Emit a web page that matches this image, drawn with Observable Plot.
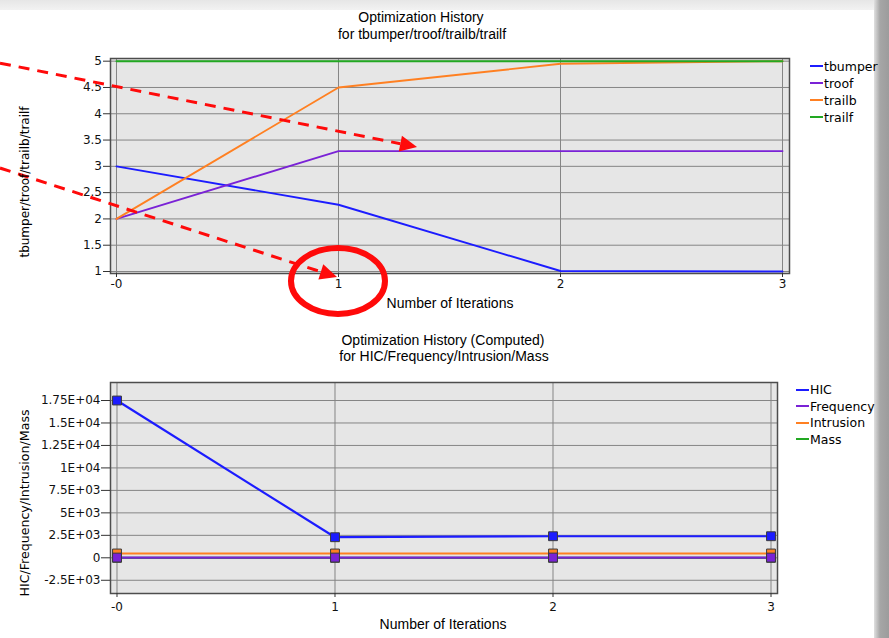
<!DOCTYPE html>
<html><head><meta charset="utf-8">
<script src="https://cdn.jsdelivr.net/npm/d3@7"></script>
<script src="https://cdn.jsdelivr.net/npm/@observablehq/plot@0.6"></script>
<style>
html,body{margin:0;padding:0;background:#fff;}
#page{position:relative;width:889px;height:638px;overflow:hidden;background:#fff;}
#page svg{position:absolute;left:0;}
.t{position:absolute;white-space:nowrap;font-family:"Liberation Sans",Arial,sans-serif;font-size:14px;color:#000;transform:translate(-50%,-50%);line-height:1;}
.yl{position:absolute;white-space:nowrap;font-family:"DejaVu Sans",sans-serif;font-size:12px;color:#000;transform:translate(-50%,-50%) rotate(-90deg);line-height:1;}
.leg{position:absolute;font-family:"DejaVu Sans",sans-serif;font-size:12.5px;color:#000;}
.leg .row{display:flex;align-items:center;}
.leg .sw{width:13px;height:2px;margin-right:1px;}
#topband{position:absolute;left:0;top:0;width:889px;height:10px;background:linear-gradient(#e6e6e6,#f2f2f2);}
#rightband{position:absolute;left:874px;top:0;width:15px;height:638px;background:linear-gradient(90deg,#e0e0e0,#a6a6a6 40%,#9c9c9c);}
</style></head><body><div id="page"></div>
<script>
// ---------- data ----------
const iterations = [0, 1, 2, 3];
const xTickLabels = ["-0", "1", "2", "3"];

const topSeries = ["tbumper", "troof", "trailb", "trailf"];
const topColors = ["#1c1cff", "#7a22d6", "#ff8022", "#22a822"];
const tbumper = [3.0, 2.27, 1.01, 1.0];
const troof = [2.0, 3.29, 3.29, 3.29];
const trailb = [2.0, 4.5, 4.95, 5.0];
const trailf = [5.0, 5.0, 5.0, 5.0];
const topValues = [tbumper, troof, trailb, trailf];
const topYTicks = [1, 1.5, 2, 2.5, 3, 3.5, 4, 4.5, 5];
const topYTickLabels = ["1", "1.5", "2", "2.5", "3", "3.5", "4", "4.5", "5"];

const botSeries = ["HIC", "Frequency", "Intrusion", "Mass"];
const botColors = ["#1c1cff", "#7a22d6", "#ff8022", "#22a822"];
const HIC = [17500, 2290, 2400, 2400];
const Frequency = [25, 25, 25, 25];
const Intrusion = [480, 480, 480, 480];
const Mass = [0, 0, 0, 0];
const botValues = [HIC, Frequency, Intrusion, Mass];
const botYTicks = [-2500, 0, 2500, 5000, 7500, 10000, 12500, 15000, 17500];
const botYTickLabels = ["-2.5E+03", "0", "2.5E+03", "5E+03", "7.5E+03", "1E+04", "1.25E+04", "1.5E+04", "1.75E+04"];

// red annotations (in data units of the upper chart)
const annotArrows = [
  {x1: -0.5225, y1: 4.954, x2: 1.356, y2: 3.357},
  {x1: -0.5225, y1: 2.958, x2: 0.9955, y2: 0.886}
];
const annotEllipses = [{x: 1.0, y: 0.81}];

// ---------- helpers ----------
const page = document.getElementById("page");
function addText(cls, txt, x, y) {
  const d = document.createElement("div");
  d.className = cls; d.textContent = txt;
  d.style.left = x + "px"; d.style.top = y + "px";
  page.appendChild(d);
}
function addLegend(names, colors, x, y, rowH) {
  const d = document.createElement("div");
  d.className = "leg"; d.style.left = x + "px"; d.style.top = y + "px";
  names.forEach((n, i) => {
    const r = document.createElement("div"); r.className = "row"; r.style.height = rowH + "px";
    const s = document.createElement("div"); s.className = "sw"; s.style.background = colors[i];
    const t = document.createElement("span"); t.textContent = n;
    r.appendChild(s); r.appendChild(t); d.appendChild(r);
  });
  page.appendChild(d);
}
function annotations(arrows, ellipses) {
  return (index, scales) => {
    const g = d3.create("svg:g");
    for (const a of arrows) {
      const x1 = scales.x(a.x1), y1 = scales.y(a.y1), x2 = scales.x(a.x2), y2 = scales.y(a.y2);
      const dx = x2 - x1, dy = y2 - y1, L = Math.hypot(dx, dy), ux = dx / L, uy = dy / L;
      const hl = 17, hw = 8;
      const bx = x2 - ux * hl, by = y2 - uy * hl;
      g.append("line").attr("x1", x1).attr("y1", y1).attr("x2", bx).attr("y2", by)
        .attr("stroke", "#ff0a0a").attr("stroke-width", 3).attr("stroke-dasharray", "11,8");
      g.append("path").attr("d", `M${x2},${y2}L${bx - uy * hw},${by + ux * hw}L${bx + uy * hw},${by - ux * hw}Z`)
        .attr("fill", "#ff0a0a");
    }
    for (const e of ellipses) {
      g.append("ellipse").attr("cx", scales.x(e.x)).attr("cy", scales.y(e.y))
        .attr("rx", 47).attr("ry", 33).attr("fill", "none").attr("stroke", "#ff0a0a").attr("stroke-width", 6);
    }
    return g.node();
  };
}
const style = {fontFamily: "DejaVu Sans", fontSize: "12px", color: "#111", background: "transparent", overflow: "visible"};
const xFmt = d => xTickLabels[iterations.indexOf(d)];

// ---------- top chart ----------
const topChart = Plot.plot({
  width: 889, height: 320,
  marginLeft: 110, marginRight: 100, marginTop: 58, marginBottom: 47,
  style,
  x: {domain: [-0.027, 3.0315], label: null},
  y: {domain: [0.962, 5.051], label: null},
  marks: [
    Plot.frame({fill: "#e6e6e6", stroke: "none"}),
    Plot.ruleY(topYTicks, {stroke: "#858585", strokeWidth: 1}),
    Plot.ruleX(iterations, {stroke: "#858585", strokeWidth: 1}),
    ...topValues.map((vals, k) => Plot.line(iterations, {x: d => d, y: (d, i) => vals[i], stroke: topColors[k], strokeWidth: 1.9})),
    Plot.frame({stroke: "#4d4d4d", strokeWidth: 1.5}),
    Plot.axisY({ticks: topYTicks, tickFormat: d => topYTickLabels[topYTicks.indexOf(d)], tickSize: 7, tickPadding: 1.5, stroke: "#333", label: null}),
    Plot.axisX({ticks: iterations, tickFormat: xFmt, tickSize: 4, tickPadding: 2, stroke: "#333", label: null}),
    annotations(annotArrows, annotEllipses)
  ]
});
topChart.style.top = "0px";

// ---------- bottom chart ----------
const botData = [];
botValues.forEach((vals, k) => iterations.forEach((it, i) => botData.push({it, v: vals[i], k})));
const drawOrder = [3, 0, 2, 1];
const botChart = Plot.plot({
  width: 889, height: 290,
  marginLeft: 110, marginRight: 112, marginTop: 52, marginBottom: 27,
  style,
  x: {domain: [-0.0298, 3.0298], label: null},
  y: {domain: [-3972, 19504], label: null},
  marks: [
    Plot.frame({fill: "#e6e6e6", stroke: "none"}),
    Plot.ruleY(botYTicks, {stroke: "#858585", strokeWidth: 1}),
    Plot.ruleX(iterations, {stroke: "#858585", strokeWidth: 1}),
    ...drawOrder.map(k => Plot.line(botData.filter(d => d.k === k), {x: "it", y: "v", stroke: botColors[k], strokeWidth: 2.2})),
    ...drawOrder.map(k => Plot.dot(botData.filter(d => d.k === k), {x: "it", y: "v", symbol: "square", r: 5, fill: botColors[k], stroke: "#3a3a3a", strokeWidth: 1})),
    Plot.frame({stroke: "#4d4d4d", strokeWidth: 1.5}),
    Plot.axisY({ticks: botYTicks, tickFormat: d => botYTickLabels[botYTicks.indexOf(d)], tickSize: 9, tickPadding: 1, stroke: "#333", label: null}),
    Plot.axisX({ticks: iterations, tickFormat: xFmt, tickSize: 4, tickPadding: 4.5, stroke: "#333", label: null})
  ]
});
botChart.style.top = "330px";

const tb = document.createElement("div"); tb.id = "topband"; page.appendChild(tb);
const rb = document.createElement("div"); rb.id = "rightband"; page.appendChild(rb);
page.appendChild(topChart);
page.appendChild(botChart);

// ---------- texts ----------
addText("t", "Optimization History", 421, 17);
addText("t", "for tbumper/troof/trailb/trailf", 422, 34);
addText("t", "Number of Iterations", 450, 303);
addText("t", "Optimization History (Computed)", 443, 340);
addText("t", "for HIC/Frequency/Intrusion/Mass", 444, 356);
addText("t", "Number of Iterations", 443, 624);
addText("yl", "tbumper/troof/trailb/trailf", 25, 182);
const yl2 = document.createElement("div"); yl2.className = "yl"; yl2.style.fontSize = "12.6px";
yl2.textContent = "HIC/Frequency/Intrusion/Mass"; yl2.style.left = "25px"; yl2.style.top = "503px"; page.appendChild(yl2);
addLegend(topSeries, topColors, 810, 57.5, 17);
addLegend(botSeries, botColors, 796, 381.7, 16.5);
</script></body></html>
